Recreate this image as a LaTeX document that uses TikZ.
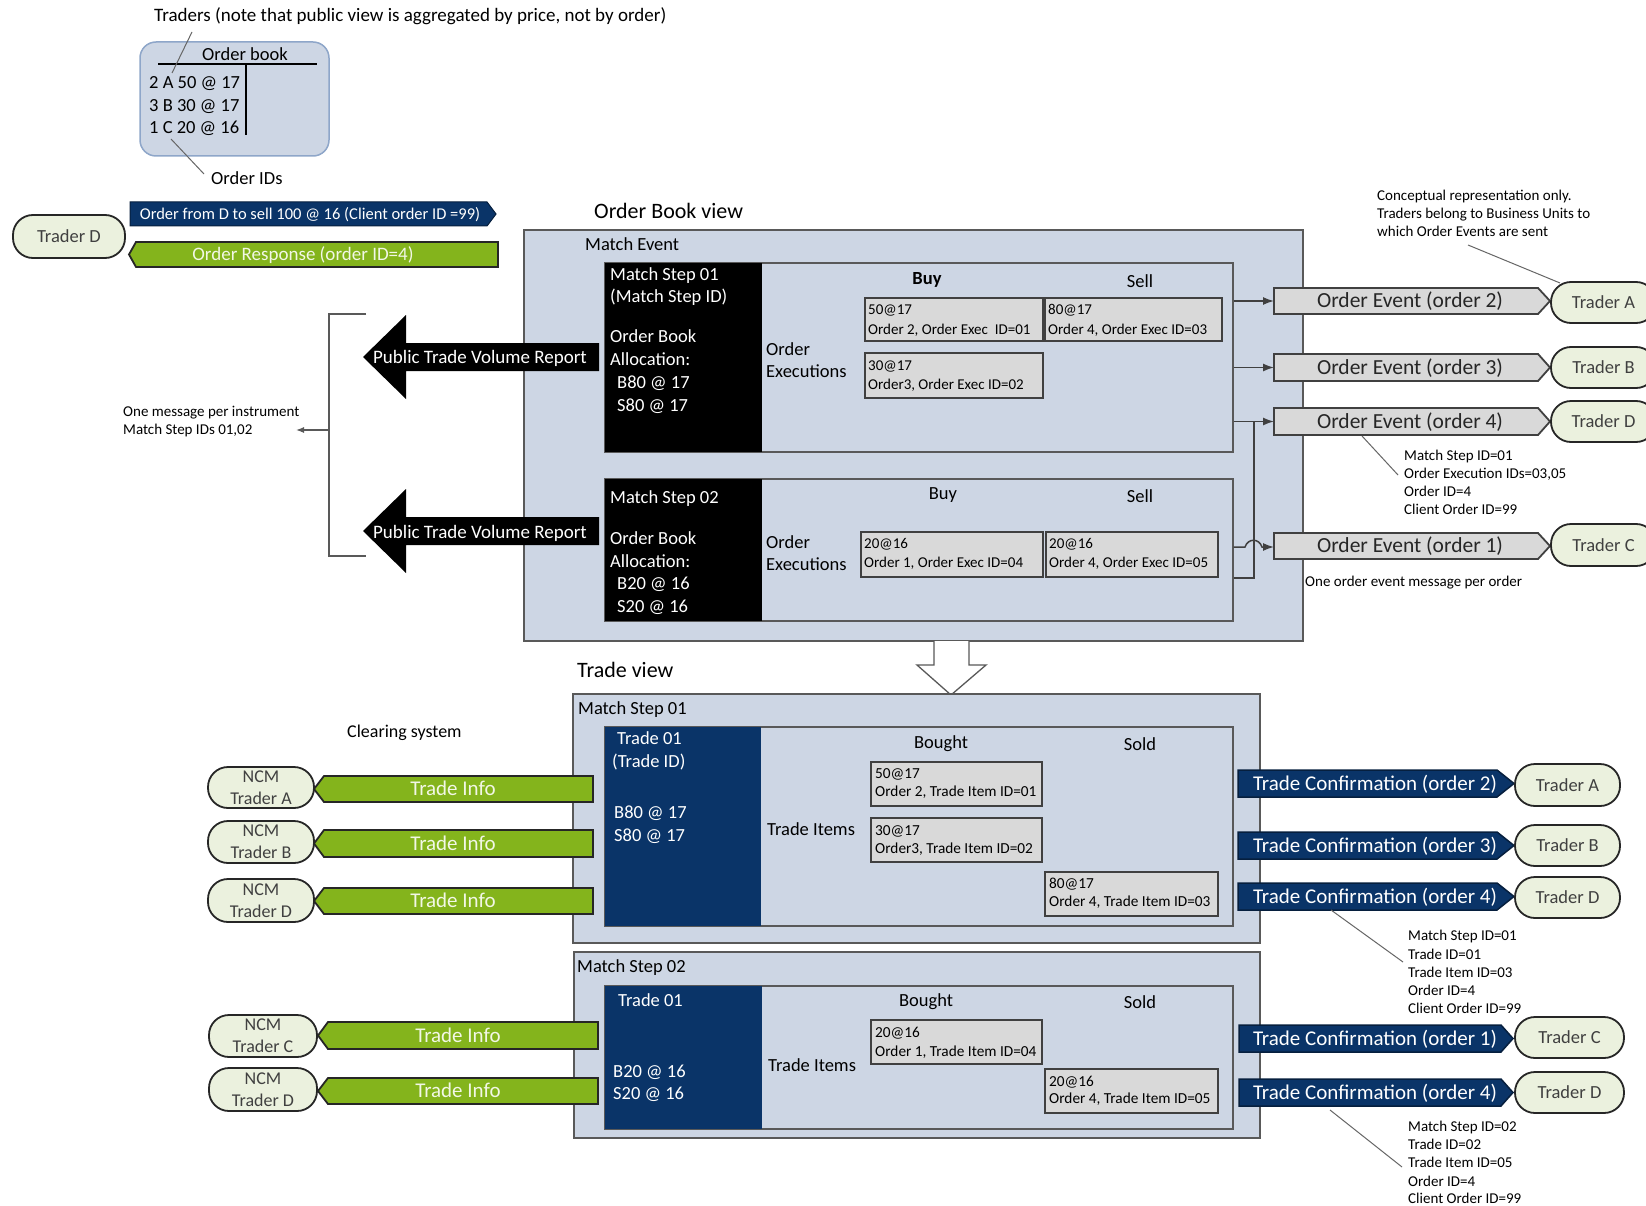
\documentclass[tikz,border=0pt]{standalone}
\usepackage{fontspec}
\setmainfont{Carlito}
\usetikzlibrary{arrows.meta,fit,calc}
\definecolor{pane}{HTML}{CDD6E4}
\definecolor{edge}{HTML}{595959}
\definecolor{cell}{HTML}{D9D9D9}
\definecolor{navy}{HTML}{0A3468}
\definecolor{lime}{HTML}{84B41C}
\definecolor{cream}{HTML}{EBF1DE}
\definecolor{obedge}{HTML}{8EA6C9}
\definecolor{dark}{HTML}{404040}
\definecolor{paletext}{HTML}{F2F7E6}
\newcommand\myfs[1]{\fontsize{#1}{#1}\selectfont}
\tikzset{
  lt/.style={font=\myfs{#1}, inner sep=0pt, anchor=base west, yshift={-0.32*#1pt}},
  ct/.style={font=\myfs{#1}, inner sep=0pt, anchor=base, yshift={-0.32*#1pt}},
  panebox/.style={fit={#1}, inner sep=0pt, draw=edge, fill=pane, line width=1.4pt},
  cellbox/.style={fit={#1}, inner sep=0pt, draw=dark, fill=cell, line width=1.3pt},
  pill/.style={inner sep=0pt, rounded corners=20pt, draw=black!85, fill=cream, line width=1.8pt, font=\myfs{18.5}, text=dark},
  evt/.style={fill=cell, draw=dark, line width=1.8pt},
  tinfo/.style={fill=lime, draw=black!85, line width=1.8pt},
  tconf/.style={fill=navy, draw=navy!60!black, line width=1.5pt},
  conn/.style={draw=dark, line width=1.5pt, -{Latex[length=11pt,width=8pt]}},
  plainln/.style={draw=dark, line width=1.5pt},
  callout/.style={draw=black!60, line width=1pt},
}
% #1 options, #2 name, #3 x1, #4 y1, #5 x2, #6 y2, #7 text
\newcommand\pillnode[7][]{%
  \node[pill, minimum width={#5-#3}, minimum height={#6-#4}, #1] (#2) at ({(#3+#5)/2},{(#4+#6)/2}) {#7};}
\begin{document}
\begin{tikzpicture}[x=1pt,y=-1pt]
\useasboundingbox (0,0) rectangle (1646,1206);
\clip (0,0) rectangle (1646,1206);
\fill[white] (0,0) rectangle (1646,1206);

% ---------- top left: order book ----------
\node[lt=19] (trtxt) at (154,15) {Traders (note that public view is aggregated by price, not by order)};
\node[fit={(140,42)(329,156)}, inner sep=0pt, rounded corners=16pt, draw=obedge, fill=pane, line width=1.5pt] (ob) {};
\node[ct=18.5] (obh) at (245,55) {Order book};
\draw[line width=2.5pt] (158,64) -- (317,64);
\draw[line width=2.5pt] (246,64) -- (246,135);
\node[lt=18.5] (ob1) at (149,83) {2 A 50 @ 17};
\node[lt=18.5] (ob2) at (149,106) {3 B 30 @ 17};
\node[lt=18.5] (ob3) at (149,128) {1 C 20 @ 16};
\coordinate (ca1) at (192,32); \coordinate (ca2) at (172,73);
\coordinate (cb1) at (171,139); \coordinate (cb2) at (204,174);
\draw[callout] (ca1) -- (ca2);
\draw[callout] (cb1) -- (cb2);
\node[lt=18.5] (oid) at (211,179) {Order IDs};

% ---------- Trader D and its messages ----------
\pillnode{tdl}{13}{215}{125}{258}{Trader D}
\path[fill=navy, draw=navy!60!black, line width=1pt] (130,202) -- (487,202) -- (496,214) -- (487,226) -- (130,226) -- cycle;
\node[ct=16.5, text=white] (ordtxt) at (310,214) {Order from D to sell 100 @ 16 (Client order ID =99)};
\path[tinfo] (136,242) -- (498,242) -- (498,267) -- (136,267) -- (129,254.5) -- cycle;
\node[ct=19, text=paletext] (resptxt) at (303,254.5) {Order Response (order ID=4)};

% ---------- Order Book view ----------
\node[lt=22] (obv) at (594,211) {Order Book view};
\node[panebox={(524,230)(1303,641)}] (me) {};
\node[lt=18.5] (metxt) at (585,245) {Match Event};

% Match step 01
\node[panebox={(605,263)(1233,452)}] (ms1) {};
\node[fit={(605,263)(762,452)}, inner sep=0pt, fill=black] (bp1) {};
\node[lt=18.5, text=white] (bp1a) at (610,275) {Match Step 01};
\node[lt=18.5, text=white] (bp1b) at (610,297) {(Match Step ID)};
\node[lt=18.5, text=white] (bp1c) at (610,337) {Order Book};
\node[lt=18.5, text=white] (bp1d) at (610,360) {Allocation:};
\node[lt=18.5, text=white] (bp1e) at (617,383) {B80 @ 17};
\node[lt=18.5, text=white] (bp1f) at (617,406) {S80 @ 17};
\node[lt=18.5] (oe1a) at (766,350) {Order};
\node[lt=18.5] (oe1b) at (766,372) {Executions};
\node[ct=18.5] (buy1) at (927,279) {\bfseries Buy};
\node[ct=18.5] (sell1) at (1140,282) {Sell};
\node[cellbox={(865,298)(1043,341)}] (c11) {};
\node[lt=15] (c11a) at (868,310) {50@17};
\node[lt=15] (c11b) at (868,330) {Order 2, Order Exec\ \ ID=01};
\node[cellbox={(1045,298)(1222,341)}] (c12) {};
\node[lt=15] (c12a) at (1048,310) {80@17};
\node[lt=15] (c12b) at (1048,330) {Order 4, Order Exec ID=03};
\node[cellbox={(865,353)(1043,398)}] (c13) {};
\node[lt=15] (c13a) at (868,366) {30@17};
\node[lt=15] (c13b) at (868,385) {Order3, Order Exec ID=02};

% Match step 02
\node[panebox={(605,479)(1233,621)}] (ms2) {};
\node[fit={(605,479)(762,621)}, inner sep=0pt, fill=black] (bp2) {};
\node[lt=18.5, text=white] (bp2a) at (610,498) {Match Step 02};
\node[lt=18.5, text=white] (bp2c) at (610,539) {Order Book};
\node[lt=18.5, text=white] (bp2d) at (610,562) {Allocation:};
\node[lt=18.5, text=white] (bp2e) at (617,584) {B20 @ 16};
\node[lt=18.5, text=white] (bp2f) at (617,607) {S20 @ 16};
\node[lt=18.5] (oe2a) at (766,543) {Order};
\node[lt=18.5] (oe2b) at (766,565) {Executions};
\node[ct=18.5] (buy2) at (943,494) {Buy};
\node[ct=18.5] (sell2) at (1140,497) {Sell};
\node[cellbox={(861,532)(1043,577)}] (c21) {};
\node[lt=15] (c21a) at (864,544) {20@16};
\node[lt=15] (c21b) at (864,563) {Order 1, Order Exec ID=04};
\node[cellbox={(1046,532)(1218,577)}] (c22) {};
\node[lt=15] (c22a) at (1049,544) {20@16};
\node[lt=15] (c22b) at (1049,563) {Order 4, Order Exec ID=05};

% Public trade volume reports
\path[fill=black] (363,357) -- (406,315) -- (406,343) -- (599,343) -- (599,371) -- (406,371) -- (406,399) -- cycle;
\node[ct=19, text=white] (ptv1) at (480,357) {Public Trade Volume Report};
\path[fill=black] (363,531) -- (406,489) -- (406,517) -- (599,517) -- (599,545) -- (406,545) -- (406,573) -- cycle;
\node[ct=19, text=white] (ptv2) at (480,532) {Public Trade Volume Report};
\coordinate (br1) at (366,314); \coordinate (br2) at (366,556);
\coordinate (brm) at (329,430); \coordinate (bre) at (296,430);
\draw[draw=edge, line width=1.3pt] (br1) -- (brm |- br1) -- (brm |- br2) -- (br2);
\draw[draw=edge, line width=1.3pt, -{Latex[length=8pt,width=6pt]}] (brm) -- (bre);
\node[lt=15] (om1) at (123,412) {One message per instrument};
\node[lt=15] (om2) at (123,430) {Match Step IDs 01,02};

% Order events
\path[evt] (1274,288) -- (1538,288) -- (1550,301) -- (1538,314) -- (1274,314) -- cycle;
\node[ct=21.5, text=black!85] (oev2) at (1410,301) {Order Event (order 2)};
\path[evt] (1274,354) -- (1538,354) -- (1550,367.5) -- (1538,381) -- (1274,381) -- cycle;
\node[ct=21.5, text=black!85] (oev3) at (1410,367.5) {Order Event (order 3)};
\path[evt] (1274,408) -- (1538,408) -- (1550,421.5) -- (1538,435) -- (1274,435) -- cycle;
\node[ct=21.5, text=black!85] (oev4) at (1410,421.5) {Order Event (order 4)};
\path[evt] (1274,533) -- (1538,533) -- (1550,546) -- (1538,559) -- (1274,559) -- cycle;
\node[ct=21.5, text=black!85] (oev1) at (1410,546) {Order Event (order 1)};
\coordinate (w2) at (1274,301);
\coordinate (w3) at (1274,367.5);
\coordinate (w4) at (1274,421.5);
\coordinate (w1) at (1274,547);
\coordinate (jn) at (1254,578);
\draw[conn] (ms1.east |- w2) -- (w2);
\draw[conn] (ms1.east |- w3) -- (w3);
\draw[conn] (ms1.east |- w4) -- (w4);
\draw[plainln] (ms2.east |- jn) -- (jn) -- (jn |- w4);
\draw[conn] (ms2.east |- w1) -- (1245,547) .. controls (1248,538) and (1259,538) .. (1262,547) -- (w1);

\pillnode{rA1}{1551}{282}{1656}{323}{Trader A}
\pillnode{rB1}{1551}{347}{1656}{388}{Trader B}
\pillnode{rD1}{1551}{401}{1656}{442}{Trader D}
\pillnode{rC1}{1551}{524}{1656}{566}{Trader C}

\node[lt=15] (cp1) at (1377,196) {Conceptual representation only.};
\node[lt=15] (cp2) at (1377,214) {Traders belong to Business Units to};
\node[lt=15] (cp3) at (1377,232) {which Order Events are sent};
\coordinate (cc1) at (1468,245); \coordinate (cc2) at (1560,283);
\draw[callout] (cc1) -- (cc2);
\coordinate (cd1) at (1362,436); \coordinate (cd2) at (1398,475);
\draw[callout] (cd1) -- (cd2);
\node[lt=15] (m1) at (1404,456) {Match Step ID=01};
\node[lt=15] (m2) at (1404,474) {Order Execution IDs=03,05};
\node[lt=15] (m3) at (1404,492) {Order ID=4};
\node[lt=15] (m4) at (1404,510) {Client Order ID=99};
\node[lt=15] (onemsg) at (1305,582) {One order event message per order};

% hollow arrow
\path[fill=white, draw=edge, line width=1.3pt] (934,641) -- (934,665) -- (917,665) -- (951,695) -- (986,665) -- (969,665) -- (969,641);

% ---------- Trade view ----------
\node[lt=22] (tv) at (577,670) {Trade view};
\node[panebox={(573,694)(1260,943)}] (tvb1) {};
\node[lt=18.5] (tvm1) at (578,709) {Match Step 01};
\node[panebox={(605,727)(1233,926)}] (ts1) {};
\node[fit={(605,727)(761,926)}, inner sep=0pt, fill=navy] (np1) {};
\node[lt=18.5, text=white] (np1a) at (617,739) {Trade 01};
\node[lt=18.5, text=white] (np1b) at (612,762) {(Trade ID)};
\node[lt=18.5, text=white] (np1c) at (614,813) {B80 @ 17};
\node[lt=18.5, text=white] (np1d) at (614,836) {S80 @ 17};
\node[lt=18.5] (ti1l) at (767,830) {Trade Items};
\node[ct=18.5] (bo1) at (941,743) {Bought};
\node[ct=18.5] (so1) at (1140,745) {Sold};
\node[cellbox={(871,762)(1042,806)}] (d11) {};
\node[lt=15.3] (d11a) at (875,774) {50@17};
\node[lt=15.3] (d11b) at (875,792) {Order 2, Trade Item ID=01};
\node[cellbox={(871,818)(1042,862)}] (d12) {};
\node[lt=15.3] (d12a) at (875,831) {30@17};
\node[lt=15.3] (d12b) at (875,849) {Order3, Trade Item ID=02};
\node[cellbox={(1045,872)(1218,916)}] (d13) {};
\node[lt=15.3] (d13a) at (1049,884) {80@17};
\node[lt=15.3] (d13b) at (1049,902) {Order 4, Trade Item ID=03};

\node[panebox={(574,952)(1260,1138)}] (tvb2) {};
\node[lt=18.5] (tvm2) at (577,967) {Match Step 02};
\node[panebox={(605,986)(1233,1129)}] (ts2) {};
\node[fit={(605,986)(762,1129)}, inner sep=0pt, fill=navy] (np2) {};
\node[lt=18.5, text=white] (np2a) at (618,1001) {Trade 01};
\node[lt=18.5, text=white] (np2c) at (613,1072) {B20 @ 16};
\node[lt=18.5, text=white] (np2d) at (613,1094) {S20 @ 16};
\node[lt=18.5] (ti2l) at (768,1066) {Trade Items};
\node[ct=18.5] (bo2) at (926,1001) {Bought};
\node[ct=18.5] (so2) at (1140,1003) {Sold};
\node[cellbox={(871,1020)(1042,1064)}] (d21) {};
\node[lt=15.3] (d21a) at (875,1033) {20@16};
\node[lt=15.3] (d21b) at (875,1052) {Order 1, Trade Item ID=04};
\node[cellbox={(1045,1069)(1218,1113)}] (d22) {};
\node[lt=15.3] (d22a) at (1049,1082) {20@16};
\node[lt=15.3] (d22b) at (1049,1099) {Order 4, Trade Item ID=05};

% Clearing system
\node[lt=18] (clr) at (347,732) {Clearing system};
\path[tinfo] (324,776) -- (593,776) -- (593,802) -- (324,802) -- (314,789) -- cycle;
\node[ct=21, text=paletext] (tia) at (453,789) {Trade Info};
\path[tinfo] (324,830) -- (593,830) -- (593,857) -- (324,857) -- (314,843.5) -- cycle;
\node[ct=21, text=paletext] (tib) at (453,843.5) {Trade Info};
\path[tinfo] (324,888) -- (593,888) -- (593,914) -- (324,914) -- (314,901) -- cycle;
\node[ct=21, text=paletext] (tid) at (453,901) {Trade Info};
\path[tinfo] (328,1022) -- (598,1022) -- (598,1049) -- (328,1049) -- (318,1035.5) -- cycle;
\node[ct=21, text=paletext] (tic) at (458,1035.5) {Trade Info};
\path[tinfo] (328,1078) -- (598,1078) -- (598,1104) -- (328,1104) -- (318,1091) -- cycle;
\node[ct=21, text=paletext] (tid2) at (458,1091) {Trade Info};

\pillnode[font=\fontsize{18}{22}\selectfont, align=center]{ncmA}{208}{767}{314}{808}{NCM\\Trader A}
\pillnode[font=\fontsize{18}{22}\selectfont, align=center]{ncmB}{208}{821}{314}{863}{NCM\\Trader B}
\pillnode[font=\fontsize{18}{22}\selectfont, align=center]{ncmD}{208}{879}{314}{922}{NCM\\Trader D}
\pillnode[font=\fontsize{18}{22}\selectfont, align=center]{ncmC}{209}{1015}{317}{1057}{NCM\\Trader C}
\pillnode[font=\fontsize{18}{22}\selectfont, align=center]{ncmD2}{209}{1068}{317}{1111}{NCM\\Trader D}

% Trade confirmations
\path[tconf] (1238,770) -- (1497,770) -- (1514,783.5) -- (1497,797) -- (1238,797) -- cycle;
\node[ct=21, text=white] (tc2) at (1375,783.5) {Trade Confirmation (order 2)};
\path[tconf] (1238,832) -- (1497,832) -- (1514,845.5) -- (1497,859) -- (1238,859) -- cycle;
\node[ct=21, text=white] (tc3) at (1375,845.5) {Trade Confirmation (order 3)};
\path[tconf] (1238,883) -- (1497,883) -- (1514,896.5) -- (1497,910) -- (1238,910) -- cycle;
\node[ct=21, text=white] (tc4) at (1375,896.5) {Trade Confirmation (order 4)};
\path[tconf] (1239,1025) -- (1501,1025) -- (1513,1038.5) -- (1501,1052) -- (1239,1052) -- cycle;
\node[ct=21, text=white] (tc1) at (1375,1038.5) {Trade Confirmation (order 1)};
\path[tconf] (1239,1079) -- (1501,1079) -- (1513,1092.5) -- (1501,1106) -- (1239,1106) -- cycle;
\node[ct=21, text=white] (tc4b) at (1375,1092.5) {Trade Confirmation (order 4)};

\pillnode{sA}{1515}{764}{1620}{806}{Trader A}
\pillnode{sB}{1515}{825}{1620}{866}{Trader B}
\pillnode{sD}{1515}{877}{1620}{918}{Trader D}
\pillnode{sC}{1515}{1017}{1624}{1058}{Trader C}
\pillnode{sD2}{1515}{1072}{1624}{1113}{Trader D}

\coordinate (ce1) at (1331,910); \coordinate (ce2) at (1403,962);
\draw[callout] (ce1) -- (ce2);
\node[lt=15] (n1) at (1408,936) {Match Step ID=01};
\node[lt=15] (n2) at (1408,955) {Trade ID=01};
\node[lt=15] (n3) at (1408,973) {Trade Item ID=03};
\node[lt=15] (n4) at (1408,991) {Order ID=4};
\node[lt=15] (n5) at (1408,1009) {Client Order ID=99};
\coordinate (cf1) at (1330,1110); \coordinate (cf2) at (1402,1167);
\draw[callout] (cf1) -- (cf2);
\node[lt=15] (p1) at (1408,1127) {Match Step ID=02};
\node[lt=15] (p2) at (1408,1145) {Trade ID=02};
\node[lt=15] (p3) at (1408,1163) {Trade Item ID=05};
\node[lt=15] (p4) at (1408,1182) {Order ID=4};
\node[lt=15] (p5) at (1408,1199) {Client Order ID=99};
\end{tikzpicture}
\end{document}
